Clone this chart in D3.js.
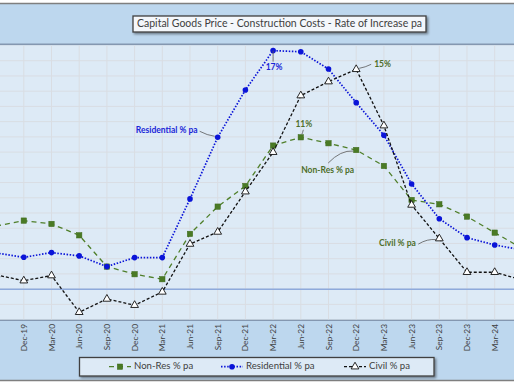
<!DOCTYPE html>
<html>
<head>
<meta charset="utf-8">
<script src="https://cdn.jsdelivr.net/npm/d3@7"></script>
<style>
  body { margin: 0; background: #fff; }
  svg { display: block; font-family: Lato, "Open Sans", sans-serif; }
</style>
</head>
<body>
<svg id="chart" width="514" height="386"></svg>
<script>
// quarters, Sep-19 .. Jun-24 (first and last sit just outside the crop)
var quarters = ["Sep-19","Dec-19","Mar-20","Jun-20","Sep-20","Dec-20","Mar-21","Jun-21","Sep-21","Dec-21",
  "Mar-22","Jun-22","Sep-22","Dec-22","Mar-23","Jun-23","Sep-23","Dec-23","Mar-24","Jun-24"]
var nonRes = [4.56,4.95,4.71,3.89,1.63,1.08,0.72,3.99,5.96,7.45,10.37,10.97,10.54,10.05,8.90,6.44,6.13,5.24,4.08,2.93]
var residential = [2.61,2.30,2.64,2.40,1.63,2.28,2.28,6.52,10.97,14.39,17.23,17.15,15.90,13.47,11.12,7.60,5.09,3.72,3.19,2.83]
var civil = [1.03,0.61,0.98,-1.67,-0.71,-1.16,-0.20,3.26,4.13,7.04,9.89,13.98,14.99,15.88,11.81,6.08,3.65,1.22,1.22,0.66]
var gridStep = 1.1
var title = "Capital Goods Price - Construction Costs - Rate of Increase pa"

var W = 514, H = 386
var svg = d3.select("#chart")
const plot = { top: 45.5, bottom: 319.6, left: 0, right: 514 }

var x = d3.scalePoint().domain(quarters).range([-3.9, -3.9 + 27.7 * (quarters.length - 1)])
var y = d3.scaleLinear().domain([-2.2, 17.6]).range([plot.bottom, plot.top])

var defs = svg.append("defs")
defs.append("clipPath").attr("id", "plotclip").append("rect")
  .attr("x", plot.left).attr("y", plot.top).attr("width", plot.right - plot.left).attr("height", plot.bottom - plot.top)
var sh = defs.append("filter").attr("id", "shadow").attr("x", "-5%").attr("y", "-20%").attr("width", "115%").attr("height", "160%")
sh.append("feDropShadow").attr("dx", 1.5).attr("dy", 1.5).attr("stdDeviation", 0.8).attr("flood-color", "#000").attr("flood-opacity", 0.45)

//------------------------------------------------ frame / bands
svg.append("rect").attr("x", 0).attr("y", 3).attr("width", W).attr("height", 378).attr("fill", "#bdd7ee")
svg.append("line").attr("x1", 0).attr("x2", W).attr("y1", 3.5).attr("y2", 3.5).attr("stroke", "#7f7f7f").attr("stroke-width", 1.5)
svg.append("line").attr("x1", 0).attr("x2", W).attr("y1", 380.5).attr("y2", 380.5).attr("stroke", "#7f7f7f").attr("stroke-width", 1.5)
svg.append("rect").attr("x", plot.left).attr("y", plot.top).attr("width", plot.right - plot.left).attr("height", plot.bottom - plot.top)
  .attr("fill", "#ddeaf6")
svg.append("line").attr("x1", 0).attr("x2", W).attr("y1", 44.3).attr("y2", 44.3).attr("stroke", "#8497b0").attr("stroke-width", 1.6)
svg.append("line").attr("x1", 0).attr("x2", W).attr("y1", 320.3).attr("y2", 320.3).attr("stroke", "#8497b0").attr("stroke-width", 1.4)

//------------------------------------------------ grid
var g = svg.append("g").attr("clip-path", "url(#plotclip)")
var hTicks = d3.range(-2, 17).map(k => k * gridStep)
g.selectAll(".hgrid").data(hTicks).join("line").attr("class", "hgrid")
  .attr("x1", plot.left).attr("x2", plot.right).attr("y1", d => y(d)).attr("y2", d => y(d))
  .attr("stroke", "#d9dde3").attr("stroke-width", 1)
g.selectAll(".vgrid").data(quarters).join("line").attr("class", "vgrid")
  .attr("x1", d => x(d)).attr("x2", d => x(d)).attr("y1", plot.top).attr("y2", plot.bottom)
  .attr("stroke", "#d9dde3").attr("stroke-width", 1)
g.append("line").attr("x1", plot.left).attr("x2", plot.right).attr("y1", y(0)).attr("y2", y(0))
  .attr("stroke", "#8eaadc").attr("stroke-width", 1.5)

//------------------------------------------------ series
var series = [
  { name: "Non-Res % pa", values: nonRes, color: "#4f7f2a", dash: "5,4", width: 1.3, marker: "square" },
  { name: "Residential % pa", values: residential, color: "#0a14d8", dash: "1.5,1.6", width: 1.7, marker: "circle" },
  { name: "Civil % pa", values: civil, color: "#111", dash: "3,2", width: 1.3, marker: "triangle" }
]
var line = d3.line().x(d => x(d.q)).y(d => y(d.v))

function drawMarker(sel, s) {
  if (s.marker == "square") {
    sel.append("rect").attr("x", -2.7).attr("y", -2.7).attr("width", 5.4).attr("height", 5.4)
      .attr("fill", "#4a7a25").attr("stroke", "#3c6a1c").attr("stroke-width", 0.5)
  } else if (s.marker == "circle") {
    sel.append("circle").attr("r", 2.8).attr("fill", "#0a14d8")
  } else {
    sel.append("path").attr("d", d3.symbol().type(d3.symbolTriangle).size(26))
      .attr("fill", "#fff").attr("stroke", "#111").attr("stroke-width", 0.9)
  }
}

series.forEach(s => {
  var pts = quarters.map((q, i) => ({ q: q, v: s.values[i] }))
  g.append("path").datum(pts).attr("d", line).attr("fill", "none")
    .attr("stroke", s.color).attr("stroke-width", s.width).attr("stroke-dasharray", s.dash)
  g.selectAll(".m_" + s.marker).data(pts).join("g").attr("class", "m_" + s.marker)
    .attr("transform", d => "translate(" + x(d.q) + "," + y(d.v) + ")")
    .each(function () { drawMarker(d3.select(this), s) })
})

//------------------------------------------------ annotations
var greenTxt = "#4d6e2a", blueTxt = "#1a26d8", leader = "#595959"
function pt(arr, q) { return [x(q), y(arr[quarters.indexOf(q)])] }
function note(txt, tx, ty, color, anchor, bold) {
  svg.append("text").text(txt).attr("x", tx).attr("y", ty).attr("dominant-baseline", "middle")
    .attr("text-anchor", anchor).attr("fill", color).attr("font-size", 8.5).attr("font-weight", bold ? 700 : 700)
}
function lead(x1, y1, x2, y2) {
  svg.append("path").attr("d", "M" + x1 + "," + y1 + " Q" + ((x1 + x2) / 2) + "," + (y1 - 1) + " " + x2 + "," + y2)
    .attr("fill", "none").attr("stroke", leader).attr("stroke-width", 0.8)
}
var p = pt(residential, "Mar-22")
lead(p[0], p[1], p[0], p[1] + 11); note("17%", p[0] + 1, p[1] + 17.5, blueTxt, "middle")
p = pt(civil, "Dec-22")
lead(p[0] + 3, p[1] - 1, p[0] + 15, p[1] - 5); note("15%", p[0] + 18, p[1] - 4.5, greenTxt, "start")
p = pt(nonRes, "Jun-22")
lead(p[0] + 1, p[1] - 3, p[0] + 2.5, p[1] - 7.5); note("11%", p[0] + 3, p[1] - 12, greenTxt, "middle")
p = pt(residential, "Sep-21")
lead(p[0] - 3, p[1] - 1, p[0] - 18, p[1] - 6); note("Residential % pa", p[0] - 20, p[1] - 6.5, blueTxt, "end")
p = pt(nonRes, "Dec-22")
lead(p[0] - 3, p[1] + 1, p[0] - 28, p[1] + 13); note("Non-Res % pa", p[0] - 55, p[1] + 20.5, greenTxt, "start")
p = pt(civil, "Sep-23")
lead(p[0] - 3, p[1] + 1, p[0] - 21, p[1] + 5.5); note("Civil % pa", p[0] - 23.5, p[1] + 5.5, greenTxt, "end")

//------------------------------------------------ x tick labels
svg.selectAll(".xlab").data(quarters.filter(q => x(q) > 4 && x(q) < W - 4)).join("text").attr("class", "xlab")
  .attr("transform", d => "translate(" + (x(d) + 3) + ",324) rotate(-90)")
  .attr("text-anchor", "end").attr("font-size", 8.3).attr("fill", "#404040").text(d => d)

//------------------------------------------------ title
svg.append("rect").attr("x", 133).attr("y", 16).attr("width", 293).attr("height", 16)
  .attr("fill", "#f4f7fb").attr("stroke", "#404040").attr("stroke-width", 1.3).attr("filter", "url(#shadow)")
svg.append("text").attr("x", 279.5).attr("y", 24.5).attr("dominant-baseline", "middle").attr("text-anchor", "middle")
  .attr("font-size", 10.6).attr("fill", "#404040").attr("textLength", 285).attr("lengthAdjust", "spacingAndGlyphs").text(title)

//------------------------------------------------ legend
svg.append("rect").attr("x", 79.5).attr("y", 357.5).attr("width", 354.5).attr("height", 18.5)
  .attr("fill", "#ddeaf6").attr("stroke", "#404040").attr("stroke-width", 1.3).attr("filter", "url(#shadow)")
var legX = [109, 221, 344]
var lg = svg.selectAll(".leg").data(series).join("g").attr("class", "leg")
  .attr("transform", (d, i) => "translate(" + legX[i] + ",366.7)")
lg.append("line").attr("x1", 0).attr("x2", 22).attr("stroke", d => d.color).attr("stroke-width", d => d.width)
  .attr("stroke-dasharray", d => d.dash)
lg.each(function (d) { drawMarker(d3.select(this).append("g").attr("transform", "translate(11,0)"), d) })
lg.append("text").attr("x", 25).attr("dominant-baseline", "middle").attr("font-size", 9.6).attr("fill", "#404040")
  .text(d => d.name)
</script>
</body>
</html>
